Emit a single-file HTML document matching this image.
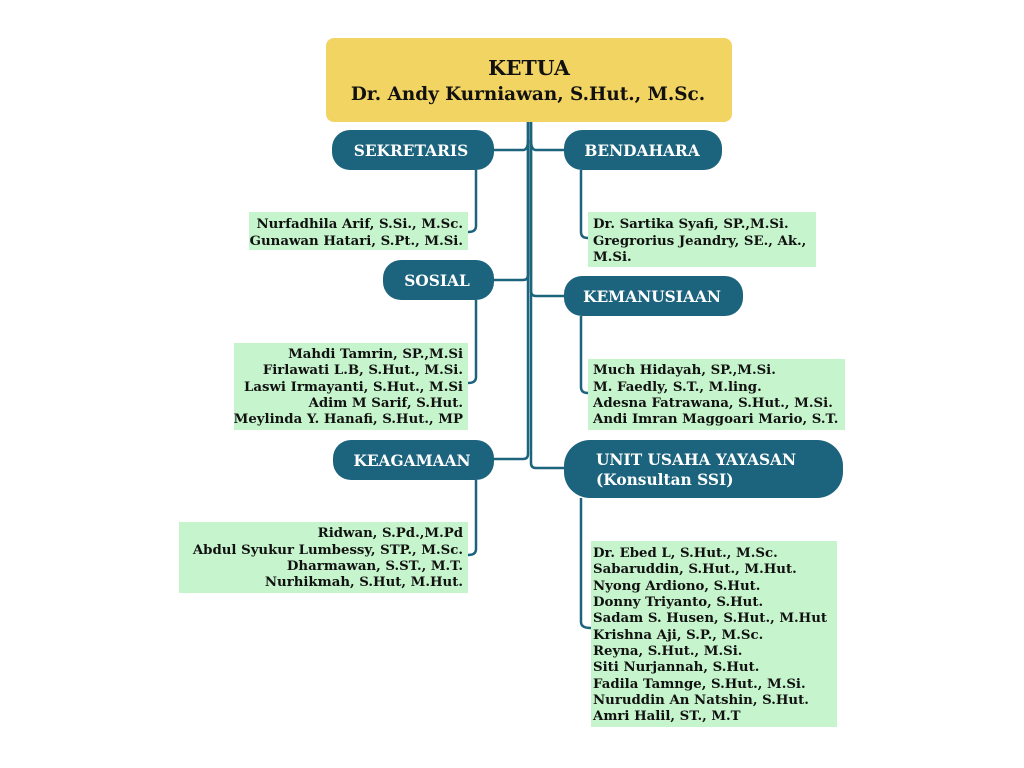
<!DOCTYPE html>
<html><head><meta charset="utf-8"><style>
html,body{margin:0;padding:0;background:#fff;}
svg{display:block;}
text{font-family:"DejaVu Serif","Liberation Serif",serif;font-weight:bold;}
.l{font-size:13.3px;fill:#111;}
.h{font-size:15.4px;fill:#fff;}
</style></head><body>
<svg width="1024" height="768" viewBox="0 0 1024 768" xmlns="http://www.w3.org/2000/svg">
<g fill="none" stroke="#1c637d" stroke-width="2.5">
<path d="M528 122 V275 q0 5 -5 5 H494"/>
<path d="M528 122 V454 q0 5 -5 5 H494"/>
<path d="M528 140 q0 10 -5 10 H494"/>
<path d="M531 122 V463 q0 5 5 5 H564"/>
<path d="M531 140 q0 10 5 10 H564"/>
<path d="M531 122 V291 q0 5 5 5 H564"/>
<path d="M476 170 V226 q0 6 -8 6"/>
<path d="M581 170 V232 q0 6 7 6"/>
<path d="M476 300 V377 q0 6 -8 6"/>
<path d="M581 316 V387 q0 6 7 6"/>
<path d="M476 480 V549 q0 6 -8 6"/>
<path d="M581 498 V622 q0 6 10 6"/>
</g>
<rect x="326" y="38" width="406" height="84" rx="8" fill="#f2d462"/>
<text x="529" y="75" text-anchor="middle" style="font-size:20.5px" fill="#111">KETUA</text>
<text x="528" y="100" text-anchor="middle" style="font-size:18.4px" fill="#111">Dr. Andy Kurniawan, S.Hut., M.Sc.</text>
<g fill="#1c637d">
<rect x="332" y="130" width="162" height="40" rx="18"/>
<rect x="564" y="130" width="158" height="40" rx="18"/>
<rect x="383" y="260" width="111" height="40" rx="18"/>
<rect x="564" y="276" width="179" height="40" rx="18"/>
<rect x="333" y="440" width="161" height="40" rx="18"/>
<rect x="564" y="440" width="279" height="58" rx="26"/>
</g>
<text class="h" x="411" y="156" text-anchor="middle">SEKRETARIS</text>
<text class="h" x="642" y="156" text-anchor="middle">BENDAHARA</text>
<text class="h" x="437" y="286" text-anchor="middle">SOSIAL</text>
<text class="h" x="652" y="302" text-anchor="middle">KEMANUSIAAN</text>
<text class="h" x="412" y="466" text-anchor="middle">KEAGAMAAN</text>
<text class="h" x="596" y="465">UNIT USAHA YAYASAN</text>
<text class="h" x="596" y="485">(Konsultan SSI)</text>
<g fill="#c6f4cc">
<rect x="249" y="212" width="219" height="38"/>
<rect x="588" y="212" width="228" height="55"/>
<rect x="234" y="343" width="234" height="87"/>
<rect x="588" y="359" width="257" height="71"/>
<rect x="179" y="522" width="289" height="71"/>
<rect x="591" y="541" width="246" height="186"/>
</g>
<g class="l" text-anchor="end">
<text x="463" y="228">Nurfadhila Arif, S.Si., M.Sc.</text>
<text x="463" y="245">Gunawan Hatari, S.Pt., M.Si.</text>
<text x="463" y="358">Mahdi Tamrin, SP.,M.Si</text>
<text x="463" y="374">Firlawati L.B, S.Hut., M.Si.</text>
<text x="463" y="391">Laswi Irmayanti, S.Hut., M.Si</text>
<text x="463" y="407">Adim M Sarif, S.Hut.</text>
<text x="463" y="423">Meylinda Y. Hanafi, S.Hut., MP</text>
<text x="463" y="537">Ridwan, S.Pd.,M.Pd</text>
<text x="463" y="554">Abdul Syukur Lumbessy, STP., M.Sc.</text>
<text x="463" y="570">Dharmawan, S.ST., M.T.</text>
<text x="463" y="586">Nurhikmah, S.Hut, M.Hut.</text>
</g>
<g class="l">
<text x="593" y="228">Dr. Sartika Syafi, SP.,M.Si.</text>
<text x="593" y="245">Gregrorius Jeandry, SE., Ak.,</text>
<text x="593" y="261">M.Si.</text>
<text x="593" y="374">Much Hidayah, SP.,M.Si.</text>
<text x="593" y="391">M. Faedly, S.T., M.ling.</text>
<text x="593" y="407">Adesna Fatrawana, S.Hut., M.Si.</text>
<text x="593" y="423">Andi Imran Maggoari Mario, S.T.</text>
<text x="593" y="557">Dr. Ebed L, S.Hut., M.Sc.</text>
<text x="593" y="573">Sabaruddin, S.Hut., M.Hut.</text>
<text x="593" y="590">Nyong Ardiono, S.Hut.</text>
<text x="593" y="606">Donny Triyanto, S.Hut.</text>
<text x="593" y="622">Sadam S. Husen, S.Hut., M.Hut</text>
<text x="593" y="639">Krishna Aji, S.P., M.Sc.</text>
<text x="593" y="655">Reyna, S.Hut., M.Si.</text>
<text x="593" y="671">Siti Nurjannah, S.Hut.</text>
<text x="593" y="688">Fadila Tamnge, S.Hut., M.Si.</text>
<text x="593" y="704">Nuruddin An Natshin, S.Hut.</text>
<text x="593" y="720">Amri Halil, ST., M.T</text>
</g>
</svg>
</body></html>
